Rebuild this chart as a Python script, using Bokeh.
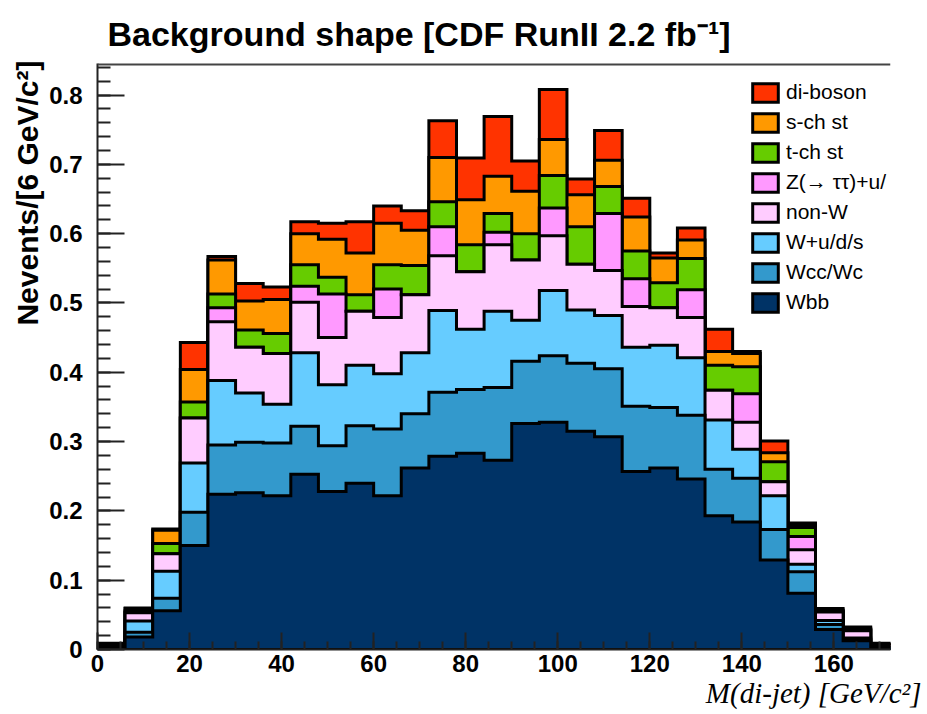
import numpy as np
from bokeh.plotting import figure
from bokeh.models import (Range1d, SingleIntervalTicker, CustomJSTickFormatter, Title, Span)
from bokeh.embed import file_html
from bokeh.resources import INLINE

# ---------------- data ----------------
bin_edges = list(range(0, 175, 6))          # 0,6,...,174  (29 bins of 6 GeV)

names = ["di-boson", "s-ch st", "t-ch st", "Z(\u2192 \u03c4\u03c4)+u/", "non-W", "W+u/d/s", "Wcc/Wc", "Wbb"]
colors = ["#FF3300", "#FF9900", "#66CC00", "#FF99FF", "#FFCCFF", "#66CCFF", "#3399CC", "#003366"]

wbb = [0.002, 0.018, 0.056, 0.150, 0.224, 0.226, 0.222, 0.253, 0.228, 0.240, 0.222, 0.262, 0.279, 0.283, 0.273,
       0.326, 0.328, 0.315, 0.307, 0.257, 0.262, 0.246, 0.193, 0.184, 0.129, 0.081, 0.029, 0.0125, 0.002]
wcc = [0.001, 0.007, 0.018, 0.048, 0.071, 0.073, 0.076, 0.069, 0.066, 0.083, 0.096, 0.078, 0.092, 0.092, 0.105,
       0.090, 0.096, 0.098, 0.098, 0.094, 0.087, 0.092, 0.067, 0.063, 0.044, 0.031, 0.007, 0.002, 0.001]
wuds = [0.001, 0.016, 0.039, 0.071, 0.093, 0.071, 0.056, 0.106, 0.088, 0.087, 0.080, 0.088, 0.118, 0.087, 0.110,
        0.059, 0.094, 0.077, 0.077, 0.085, 0.090, 0.083, 0.071, 0.042, 0.049, 0.011, 0.006, 0.002, 0.001]
nonw = [0.002, 0.012, 0.025, 0.065, 0.085, 0.066, 0.073, 0.073, 0.068, 0.078, 0.081, 0.084, 0.079, 0.083, 0.096,
        0.087, 0.079, 0.066, 0.065, 0.059, 0.054, 0.058, 0.043, 0.039, 0.020, 0.021, 0.012, 0.0105, 0.002]
ztt = [0.0, 0.001, 0.0, 0.0, 0.020, 0.0, 0.0, 0.023, 0.063, 0.0, 0.041, 0.0, 0.042, 0.0, 0.018,
       0.0, 0.040, 0.0, 0.082, 0.040, 0.0, 0.040, 0.0, 0.041, 0.0, 0.019, 0.0005, 0.001, 0.0]
tch = [0.001, 0.002, 0.015, 0.023, 0.020, 0.025, 0.029, 0.031, 0.024, 0.024, 0.035, 0.042, 0.036, 0.039, 0.027,
       0.038, 0.047, 0.054, 0.039, 0.040, 0.036, 0.045, 0.036, 0.039, 0.029, 0.013, 0.001, 0.001, 0.001]
sch = [0.001, 0.003, 0.019, 0.047, 0.049, 0.042, 0.049, 0.045, 0.055, 0.060, 0.060, 0.051, 0.064, 0.065, 0.054,
       0.061, 0.052, 0.046, 0.038, 0.049, 0.036, 0.027, 0.020, 0.019, 0.013, 0.0035, 0.0015, 0.0015, 0.001]
dib = [0.001, 0.001, 0.002, 0.039, 0.005, 0.025, 0.018, 0.017, 0.023, 0.045, 0.025, 0.028, 0.053, 0.060, 0.086,
       0.044, 0.072, 0.023, 0.043, 0.027, 0.007, 0.017, 0.032, 0.003, 0.017, 0.003, 0.002, 0.002, 0.001]

x_ticks_major = 20
y_ticks_major = 0.1
y_top = 0.8455

# bottom -> top stacking order
stack_bottom_up = [wbb, wcc, wuds, nonw, ztt, tch, sch, dib]

# ---------------- figure ----------------
p = figure(width=927, height=714, output_backend="svg", toolbar_location=None,
           x_range=Range1d(0, 172.3), y_range=Range1d(0, y_top),
           min_border_left=97, min_border_right=37, min_border_top=63, min_border_bottom=65)
p.outline_line_color = None
p.xgrid.visible = False
p.ygrid.visible = False
p.background_fill_color = "white"
p.border_fill_color = "white"

cum = np.cumsum(np.array(stack_bottom_up), axis=0)   # cumulative, bottom-up
n = len(bin_edges) - 1


def step_polygon(vals):
    xs = [bin_edges[0]]
    ys = [0.0]
    for i in range(n):
        xs += [bin_edges[i], bin_edges[i + 1]]
        ys += [float(vals[i]), float(vals[i])]
    xs.append(bin_edges[-1])
    ys.append(0.0)
    return xs, ys


# draw like ROOT THStack: top cumulative first, lower layers over it
for k in range(len(names)):
    level = len(names) - 1 - k
    xs, ys = step_polygon(cum[level])
    p.patch(xs, ys, fill_color=colors[k], line_color="black", line_width=3,
            line_join="miter", legend_label=names[k])

# top frame line
p.add_layout(Span(location=y_top, dimension="width", line_color="#444444", line_width=4))

# ---------------- axes ----------------
tick_font = "Liberation Sans"
for ax in (p.xaxis[0], p.yaxis[0]):
    ax.major_label_text_font = tick_font
    ax.major_label_text_font_style = "bold"
    ax.major_label_text_font_size = "24px"
    ax.major_label_text_color = "black"
    ax.axis_line_width = 2
    ax.axis_line_color = "#222222"
    ax.major_tick_line_width = 2
    ax.minor_tick_line_width = 2
    ax.major_tick_line_color = "#222222"
    ax.minor_tick_line_color = "#222222"
    ax.major_tick_out = 0
    ax.minor_tick_out = 0

p.xaxis.ticker = SingleIntervalTicker(interval=x_ticks_major, num_minor_ticks=4)
p.xaxis.major_tick_in = 17
p.xaxis.minor_tick_in = 8
p.xaxis.major_label_standoff = 5

p.yaxis.ticker = SingleIntervalTicker(interval=y_ticks_major, num_minor_ticks=5)
p.yaxis.major_tick_in = 27
p.yaxis.minor_tick_in = 13
p.yaxis.major_label_standoff = 15
p.yaxis.formatter = CustomJSTickFormatter(code="return Math.abs(tick) < 1e-9 ? '0' : tick.toFixed(1);")

# ---------------- texts ----------------
p.title = Title(text="Background shape [CDF RunII 2.2 fb\u207b\u00b9]", align="left", offset=10,
                standoff=22, text_font="Liberation Sans", text_font_style="bold",
                text_font_size="34px", text_color="black")

ytitle = Title(text="Nevents/[6 GeV/c\u00b2]", align="right", offset=-3, standoff=5,
               text_font="Liberation Sans", text_font_style="bold", text_font_size="30px",
               text_color="black")
p.add_layout(ytitle, "left")

xtitle = Title(text="M(di-jet) [GeV/c\u00b2]", align="right", offset=-31, standoff=0,
               text_font="Liberation Serif", text_font_style="italic", text_font_size="29px",
               text_color="black")
p.add_layout(xtitle, "below")

# ---------------- legend ----------------
leg = p.legend[0]
leg.location = (652, 335)
leg.border_line_alpha = 0
leg.background_fill_alpha = 0
leg.padding = 0
leg.margin = 0
leg.spacing = 6
leg.glyph_width = 32
leg.glyph_height = 23
leg.label_height = 23
leg.label_standoff = 5
leg.label_text_font = "Liberation Sans"
leg.label_text_font_size = "21px"
leg.label_text_color = "black"

open("out.html", "w").write(file_html(p, INLINE))
